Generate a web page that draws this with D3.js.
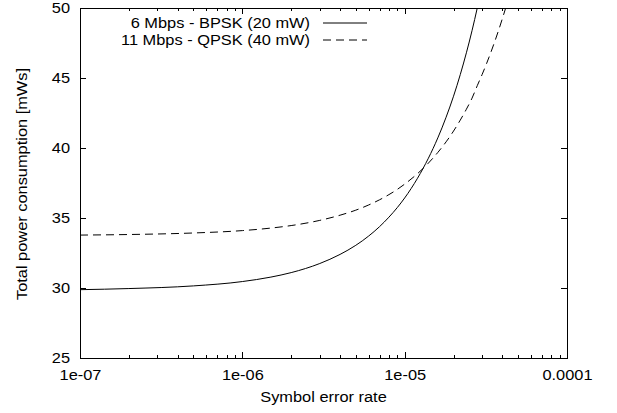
<!DOCTYPE html>
<html>
<head>
<meta charset="utf-8">
<script src="https://cdn.jsdelivr.net/npm/d3@7"></script>
<style>
  body { margin: 0; background: #fff; }
  text { font-family: "Liberation Sans", Arial, sans-serif; font-size: 14px; fill: #000; }
  .axis path, .axis line { stroke: #000; stroke-width: 1; shape-rendering: crispEdges; }
  .axis text { font-family: "Liberation Sans", Arial, sans-serif; font-size: 14px; }
</style>
</head>
<body>
<div id="wrapper"></div>
<script>
// data
const bpskSer = [1e-7, 2e-7, 5e-7, 1e-6, 1.5e-6, 2e-6, 3e-6, 4e-6, 5e-6, 6e-6, 7e-6, 8e-6, 9e-6,
  1e-5, 1.2e-5, 1.4e-5, 1.6e-5, 1.8e-5, 2e-5, 2.2e-5, 2.4e-5, 2.6e-5, 2.8e-5];
const bpskPower = [29.88, 29.96, 30.15, 30.46, 30.78, 31.1, 31.75, 32.4, 33.05, 33.71, 34.38, 35.06, 35.74,
  36.43, 37.84, 39.27, 40.72, 42.2, 43.7, 45.24, 46.8, 48.38, 50];
const qpskSer = [1e-7, 2e-7, 5e-7, 1e-6, 1.5e-6, 2e-6, 3e-6, 4e-6, 5e-6, 6e-6, 7e-6, 8e-6, 9e-6,
  1e-5, 1.2e-5, 1.4e-5, 1.6e-5, 1.8e-5, 2e-5, 2.2e-5, 2.4e-5, 2.6e-5, 2.8e-5, 3e-5, 3.2e-5,
  3.4e-5, 3.6e-5, 3.8e-5, 4e-5, 4.19e-5];
const qpskPower = [33.78, 33.82, 33.93, 34.1, 34.28, 34.46, 34.83, 35.2, 35.56, 35.93, 36.3, 36.67, 37.04,
  37.42, 38.17, 38.92, 39.68, 40.44, 41.21, 41.99, 42.77, 43.56, 44.45, 45.25, 46.05,
  46.85, 47.65, 48.45, 49.25, 50];
const seriesNames = ["6 Mbps - BPSK (20 mW)", "11 Mbps - QPSK (40 mW)"];
const xTicks = [1e-7, 1e-6, 1e-5, 1e-4];
const xTickLabels = ["1e-07", "1e-06", "1e-05", "0.0001"];
const yTicks = [25, 30, 35, 40, 45, 50];

const dimensions = {
  width: 617,
  height: 413,
  margin: { top: 8, right: 50, bottom: 55, left: 80 },
};
dimensions.boundedWidth = dimensions.width - dimensions.margin.left - dimensions.margin.right;
dimensions.boundedHeight = dimensions.height - dimensions.margin.top - dimensions.margin.bottom;

const wrapper = d3.select("#wrapper")
  .append("svg")
    .attr("width", dimensions.width)
    .attr("height", dimensions.height);

const bounds = wrapper.append("g")
    .attr("transform", `translate(${dimensions.margin.left},${dimensions.margin.top})`);

const xScale = d3.scaleLog()
  .domain([1e-7, 1e-4])
  .range([0, dimensions.boundedWidth]);

const yScale = d3.scaleLinear()
  .domain([25, 50])
  .range([dimensions.boundedHeight, 0]);

// minor ticks 2..9 in each decade
const minorTicks = [];
[1e-7, 1e-6, 1e-5].forEach(d => {
  for (let k = 2; k <= 9; k++) minorTicks.push(d * k);
});

// axes (ticks point inward like gnuplot)
const fmt = d => xTickLabels[xTicks.indexOf(d)];

bounds.append("g")
    .attr("class", "axis")
    .attr("transform", `translate(0,${dimensions.boundedHeight})`)
    .call(d3.axisBottom(xScale).tickValues(xTicks).tickFormat(fmt).tickSize(-6).tickSizeOuter(0).tickPadding(12));
bounds.append("g")
    .attr("class", "axis")
    .attr("transform", `translate(0,${dimensions.boundedHeight})`)
    .call(d3.axisBottom(xScale).tickValues(minorTicks).tickFormat("").tickSize(-3).tickSizeOuter(0))
    .call(g => g.select(".domain").remove());
bounds.append("g")
    .attr("class", "axis")
    .call(d3.axisTop(xScale).tickValues(xTicks).tickFormat("").tickSize(-6).tickSizeOuter(0));
bounds.append("g")
    .attr("class", "axis")
    .call(d3.axisTop(xScale).tickValues(minorTicks).tickFormat("").tickSize(-3).tickSizeOuter(0))
    .call(g => g.select(".domain").remove());
bounds.append("g")
    .attr("class", "axis")
    .call(d3.axisLeft(yScale).tickValues(yTicks).tickSize(-6).tickSizeOuter(0).tickPadding(10));
bounds.append("g")
    .attr("class", "axis")
    .attr("transform", `translate(${dimensions.boundedWidth},0)`)
    .call(d3.axisRight(yScale).tickValues(yTicks).tickFormat("").tickSize(-6).tickSizeOuter(0));

bounds.selectAll(".axis text").attr("fill", "#000");

// lines
const lineGen = d3.line()
  .x(d => xScale(d[0]))
  .y(d => yScale(d[1]))
  .curve(d3.curveMonotoneX);

const series = [
  { name: seriesNames[0], pts: d3.zip(bpskSer, bpskPower), dash: null },
  { name: seriesNames[1], pts: d3.zip(qpskSer, qpskPower), dash: "8,5" },
];

bounds.selectAll(".series")
  .data(series)
  .join("path")
    .attr("class", "series")
    .attr("fill", "none")
    .attr("stroke", "#000")
    .attr("stroke-width", 1)
    .attr("stroke-dasharray", d => d.dash)
    .attr("d", d => lineGen(d.pts));

// legend
const legend = bounds.append("g")
    .attr("transform", "translate(230,0)");
const rows = legend.selectAll("g")
  .data(series)
  .join("g")
    .attr("transform", (d, i) => `translate(0,${15 + i * 17})`);
rows.append("text")
    .attr("text-anchor", "end")
    .attr("dy", "0.35em")
    .text(d => d.name);
rows.append("line")
    .attr("x1", 13)
    .attr("x2", 57)
    .attr("stroke", "#000")
    .attr("stroke-dasharray", d => d.dash);

// axis labels
wrapper.append("text")
    .attr("x", dimensions.margin.left + dimensions.boundedWidth / 2)
    .attr("y", 402)
    .attr("text-anchor", "middle")
    .text("Symbol error rate");
wrapper.append("text")
    .attr("transform", `translate(27,${dimensions.margin.top + dimensions.boundedHeight / 2 + 1}) rotate(-90)`)
    .attr("text-anchor", "middle")
    .text("Total power consumption [mWs]");

// the original's lettering runs wider than Liberation Sans at the same height
wrapper.selectAll("text").each(function() {
  const len = this.getComputedTextLength();
  if (len > 0) {
    d3.select(this)
      .attr("textLength", len * 1.17)
      .attr("lengthAdjust", "spacingAndGlyphs");
  }
});
</script>
</body>
</html>
